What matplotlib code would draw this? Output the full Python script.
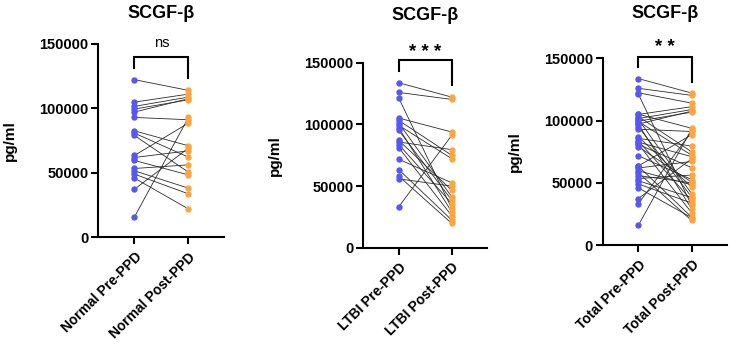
import matplotlib
matplotlib.use("Agg")
import matplotlib.pyplot as plt
import numpy as np

plt.rcParams['font.family'] = ['Liberation Sans', 'DejaVu Sans']
plt.rcParams['font.weight'] = 'bold'

# values (pg/ml), paired pre -> post
normal_pre = [122300, 104900, 101600, 99500, 97200, 93000, 82600, 80800, 79000,
              63500, 61900, 59600, 53400, 51600, 49000, 45900, 37300, 15800]
normal_post = [114000, 111100, 108800, 106700, 107500, 91200, 71000, 62200, 50500,
               88600, 67100, 48400, 56200, 38100, 33700, 22000, 69200, 93000]

ltbi_pre = [133700, 125900, 121300, 105100, 103200, 101000, 99200, 97000, 95100,
            87000, 85700, 83600, 81100, 71700, 63300, 58000, 55800, 33200]
ltbi_post = [122100, 120200, 31800, 93800, 74900, 41200, 72200, 29100, 38500,
             46600, 79500, 35800, 25900, 52600, 22400, 19700, 49900, 91100]

total_pre = normal_pre + ltbi_pre
total_post = normal_post + ltbi_post

groups = [
    ("Normal", normal_pre, normal_post, "ns"),
    ("LTBI", ltbi_pre, ltbi_post, "* * *"),
    ("Total", total_pre, total_post, "* *"),
]

yticks = [0, 50000, 100000, 150000]
blue = "#5757F2"
orange = "#FFA53F"

# axes boxes in figure fraction
boxes = [
    [0.1347, 0.3142, 0.1722, 0.5587],
    [0.4977, 0.2841, 0.1690, 0.5347],
    [0.8256, 0.2919, 0.1699, 0.5396],
]
# bracket: top, left leg end, right leg end, label y
brackets = [
    (140000, 131000, 123500, 151000),
    (152200, 143500, 131900, 158500),
    (151300, 143300, 131200, 158500),
]
title_y = [13, 15, 13]

fig = plt.figure(figsize=(7.30, 3.46), dpi=100)

for (name, pre, post, sig), box, br, ty in zip(groups, boxes, brackets, title_y):
    ax = fig.add_axes(box)
    for a, b in zip(pre, post):
        ax.plot([0, 1], [a, b], color="#2b2b2b", lw=0.6, zorder=1)
    ax.plot(np.zeros(len(pre)), pre, "o", color=blue, ms=4.6, mec="none", zorder=2)
    ax.plot(np.ones(len(post)), post, "o", color=orange, ms=4.6, mec="none", zorder=2)

    ax.set_xlim(-0.67, 1.66)
    ax.set_ylim(0, 150000)
    ax.set_yticks(yticks)
    ax.set_yticklabels([str(t) for t in yticks], fontsize=10.5, fontweight='bold')
    ax.set_xticks([0, 1])
    ax.set_xticklabels([name + " Pre-PPD", name + " Post-PPD"], rotation=45,
                       ha="right", rotation_mode="anchor", fontsize=10,
                       fontweight='bold')
    ax.tick_params(axis="both", length=5, width=1.5, pad=2, color="black")
    ax.tick_params(axis="x", pad=4)
    for s in ["top", "right"]:
        ax.spines[s].set_visible(False)
    for s in ["left", "bottom"]:
        ax.spines[s].set_linewidth(1.5)
    ax.set_ylabel("pg/ml", fontsize=11, fontweight='bold', labelpad=16)

    top, left_end, right_end, label_y = br
    ax.plot([0, 0, 1, 1], [left_end, top, top, right_end], color="black",
            lw=1.5, clip_on=False, solid_joinstyle="miter")
    if sig == "ns":
        ax.text(0.5, label_y, sig, ha="center", va="center", fontsize=10.5,
                fontweight='normal', clip_on=False)
    else:
        ax.text(0.5, label_y, sig, ha="center", va="center", fontsize=13.5,
                fontweight='bold', clip_on=False)

    bb = ax.get_position()
    fig.text(bb.x0 + bb.width / 2, 1 - ty / 346, "SCGF-β", ha="center",
             va="center", fontsize=13, fontweight='bold')

fig.savefig("out.png", dpi=100)
